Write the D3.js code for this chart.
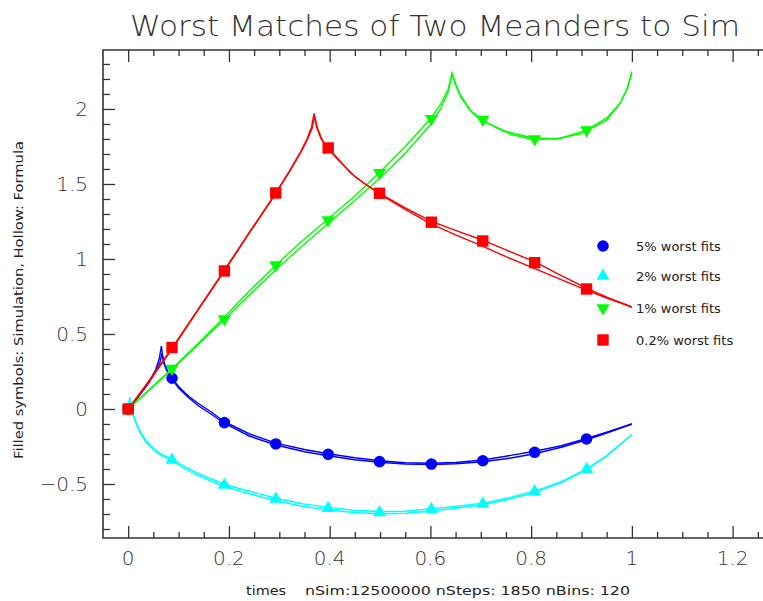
<html>
<head>
<style>
  body { margin: 0; background: #fff; }
  svg text { font-family: "DejaVu Sans", "Liberation Sans", sans-serif; fill: #222; }
</style>
</head>
<body>
<script src="https://d3js.org/d3.v7.min.js"></script>
<svg width="763" height="601"></svg>
<script>
// tick values
var xMajor = [0, 0.2, 0.4, 0.6, 0.8, 1, 1.2];
var yMajor = [-0.5, 0, 0.5, 1, 1.5, 2];

// marker positions (simulation, filled symbols)
var markX = [0, 0.087, 0.191, 0.293, 0.397, 0.499, 0.602, 0.704, 0.807, 0.91];
var blueMarks  = [0, 0.205, -0.091, -0.233, -0.302, -0.351, -0.367, -0.345, -0.289, -0.2];
var cyanMarks  = [0, -0.34, -0.507, -0.6, -0.662, -0.69, -0.669, -0.633, -0.551, -0.402];
var greenMarks = [0, 0.27, 0.6, 0.96, 1.26, 1.575, 1.935, 1.93, 1.8, 1.86];
var redMarks   = [0, 0.41, 0.92, 1.44, 1.74, 1.438, 1.245, 1.12, 0.975, 0.8];

// curves [time, value]
var blueSim = [[0,0],[0.02,0.085],[0.04,0.175],[0.055,0.265],[0.062,0.34],[0.066,0.42],[0.07,0.31],[0.078,0.245],[0.087,0.205],[0.1,0.15],[0.12,0.085],[0.14,0.035],[0.165,-0.02],[0.191,-0.085],[0.24,-0.165],[0.293,-0.228],[0.35,-0.27],[0.397,-0.298],[0.45,-0.325],[0.499,-0.345],[0.55,-0.358],[0.602,-0.362],[0.65,-0.357],[0.704,-0.34],[0.75,-0.315],[0.807,-0.282],[0.86,-0.245],[0.91,-0.197],[0.95,-0.155],[1.0,-0.1]];
var blueFormula = [[0,0],[0.02,0.08],[0.04,0.17],[0.055,0.25],[0.063,0.31],[0.067,0.37],[0.072,0.3],[0.08,0.24],[0.087,0.2],[0.1,0.14],[0.12,0.075],[0.14,0.02],[0.165,-0.035],[0.191,-0.095],[0.24,-0.18],[0.293,-0.24],[0.35,-0.285],[0.397,-0.312],[0.45,-0.338],[0.499,-0.355],[0.55,-0.367],[0.602,-0.37],[0.65,-0.365],[0.704,-0.352],[0.75,-0.332],[0.807,-0.298],[0.86,-0.255],[0.91,-0.205],[0.95,-0.16],[1.0,-0.1]];

var cyanSim = [[0,0],[0.003,0.08],[0.006,0],[0.011,-0.045],[0.016,-0.09],[0.024,-0.15],[0.035,-0.21],[0.05,-0.262],[0.065,-0.3],[0.087,-0.335],[0.11,-0.38],[0.136,-0.425],[0.16,-0.46],[0.191,-0.5],[0.22,-0.53],[0.249,-0.555],[0.293,-0.595],[0.345,-0.632],[0.397,-0.656],[0.447,-0.675],[0.499,-0.683],[0.55,-0.682],[0.602,-0.665],[0.65,-0.65],[0.704,-0.628],[0.75,-0.597],[0.807,-0.548],[0.86,-0.485],[0.91,-0.4],[0.95,-0.31],[1.0,-0.17]];
var cyanFormula = [[0,0],[0.003,0.06],[0.006,-0.01],[0.011,-0.055],[0.016,-0.1],[0.024,-0.16],[0.035,-0.22],[0.05,-0.272],[0.065,-0.31],[0.087,-0.345],[0.11,-0.393],[0.136,-0.44],[0.16,-0.475],[0.191,-0.515],[0.22,-0.545],[0.249,-0.572],[0.293,-0.612],[0.345,-0.648],[0.397,-0.672],[0.447,-0.69],[0.499,-0.698],[0.55,-0.695],[0.602,-0.68],[0.65,-0.662],[0.704,-0.638],[0.75,-0.607],[0.807,-0.556],[0.86,-0.49],[0.91,-0.405],[0.95,-0.315],[1.0,-0.17]];

var greenSim = [[0,0],[0.05,0.155],[0.087,0.27],[0.14,0.44],[0.19,0.61],[0.24,0.785],[0.292,0.955],[0.34,1.105],[0.396,1.265],[0.45,1.42],[0.5,1.58],[0.55,1.75],[0.6,1.935],[0.62,2.03],[0.635,2.13],[0.643,2.24],[0.65,2.17],[0.66,2.09],[0.68,1.99],[0.702,1.93],[0.73,1.875],[0.76,1.83],[0.807,1.795],[0.858,1.805],[0.911,1.86],[0.95,1.94],[0.977,2.04],[0.99,2.13],[1.0,2.25]];
var greenFormula = [[0,0],[0.05,0.15],[0.1,0.305],[0.15,0.465],[0.2,0.625],[0.25,0.79],[0.3,0.95],[0.35,1.1],[0.4,1.245],[0.45,1.39],[0.5,1.54],[0.55,1.705],[0.6,1.895],[0.62,2.0],[0.635,2.11],[0.643,2.23],[0.65,2.16],[0.66,2.08],[0.68,1.985],[0.7,1.925],[0.75,1.85],[0.8,1.81],[0.85,1.8],[0.9,1.835],[0.95,1.925],[0.975,2.03],[0.99,2.13],[1.0,2.24]];

var redSim = [[0,0],[0.02,0.09],[0.045,0.205],[0.088,0.41],[0.14,0.67],[0.19,0.92],[0.24,1.175],[0.293,1.44],[0.32,1.585],[0.34,1.7],[0.355,1.8],[0.364,1.88],[0.369,1.97],[0.374,1.88],[0.383,1.8],[0.397,1.74],[0.42,1.655],[0.441,1.575],[0.47,1.5],[0.499,1.438],[0.55,1.34],[0.602,1.25],[0.65,1.19],[0.704,1.125],[0.75,1.06],[0.808,0.98],[0.85,0.905],[0.91,0.805],[0.95,0.745],[1.0,0.68]];
var redFormula = [[0,0],[0.02,0.085],[0.045,0.2],[0.088,0.405],[0.14,0.665],[0.19,0.915],[0.24,1.17],[0.293,1.435],[0.32,1.58],[0.34,1.695],[0.355,1.79],[0.365,1.87],[0.37,1.95],[0.376,1.87],[0.385,1.795],[0.397,1.735],[0.42,1.65],[0.45,1.55],[0.5,1.43],[0.55,1.33],[0.6,1.235],[0.65,1.16],[0.7,1.09],[0.75,1.015],[0.8,0.945],[0.85,0.875],[0.9,0.805],[0.95,0.74],[1.0,0.68]];

var legendLabels = ["5% worst fits", "2% worst fits", "1% worst fits", "0.2% worst fits"];

var svg = d3.select("svg");

var x = d3.scaleLinear().domain([-0.05, 1.3]).range([103, 783]);
var y = d3.scaleLinear().domain([-0.86, 2.393]).range([538, 50]);

var series = [
  {color: "#0000ff", sim: blueSim, formula: blueFormula, marks: blueMarks, sym: d3.symbolCircle, size: 105, rot: 0},
  {color: "#00ffff", sim: cyanSim, formula: cyanFormula, marks: cyanMarks, sym: d3.symbolTriangle, size: 75, rot: 0},
  {color: "#00ff00", sim: greenSim, formula: greenFormula, marks: greenMarks, sym: d3.symbolTriangle, size: 75, rot: 180},
  {color: "#ff0000", sim: redSim, formula: redFormula, marks: redMarks, sym: d3.symbolSquare, size: 130, rot: 0}
];

// axes: bottom, left, top with inward ticks
var axisColor = "#333";
function styleAxis(g) {
  g.select(".domain").remove();
  g.selectAll("line").attr("stroke", axisColor).attr("stroke-width", 1.3);
}
var xMinor = d3.range(0, 1.3, 0.05).filter(function(v) { return Math.abs(v / 0.2 - Math.round(v / 0.2)) > 1e-6; });
var yMinor = d3.range(-0.8, 2.39, 0.1).filter(function(v) { return Math.abs(v / 0.5 - Math.round(v / 0.5)) > 1e-6; });

svg.append("g").attr("transform", "translate(0,538)")
  .call(d3.axisTop(x).tickValues(xMajor).tickSize(12).tickFormat(""))
  .call(styleAxis);
svg.append("g").attr("transform", "translate(0,538)")
  .call(d3.axisTop(x).tickValues(xMinor).tickSize(6).tickFormat(""))
  .call(styleAxis);
svg.append("g").attr("transform", "translate(0,50)")
  .call(d3.axisBottom(x).tickValues(xMajor).tickSize(12).tickFormat(""))
  .call(styleAxis);
svg.append("g").attr("transform", "translate(0,50)")
  .call(d3.axisBottom(x).tickValues(xMinor).tickSize(6).tickFormat(""))
  .call(styleAxis);
svg.append("g").attr("transform", "translate(103,0)")
  .call(d3.axisRight(y).tickValues(yMajor).tickSize(12).tickFormat(""))
  .call(styleAxis);
svg.append("g").attr("transform", "translate(103,0)")
  .call(d3.axisRight(y).tickValues(yMinor).tickSize(7).tickFormat(""))
  .call(styleAxis);

// frame
svg.append("path")
  .attr("d", "M763,50H103V538H763")
  .attr("fill", "none").attr("stroke", axisColor).attr("stroke-width", 1.6);

// tick labels
svg.selectAll(".xl").data(xMajor).enter().append("text")
  .attr("x", function(d) { return x(d); }).attr("y", 565)
  .attr("text-anchor", "middle")
  .style("font-size", "20px").style("font-weight", "200").style("fill", "#333")
  .text(function(d) { return d; });
svg.selectAll(".yl").data(yMajor).enter().append("text")
  .attr("x", 88).attr("y", function(d) { return y(d) + 7; })
  .attr("text-anchor", "end")
  .style("font-size", "20px").style("font-weight", "200").style("fill", "#333")
  .text(function(d) { return d < 0 ? "\u2212" + Math.abs(d) : d; });

// titles
svg.append("text").attr("x", 130).attr("y", 36)
  .attr("textLength", 610).attr("lengthAdjust", "spacingAndGlyphs")
  .style("font-size", "29px").style("font-weight", "200").style("fill", "#333")
  .text("Worst Matches of Two Meanders to Sim");
svg.append("text").attr("x", 246).attr("y", 595).style("font-size", "12px")
  .attr("textLength", 40).attr("lengthAdjust", "spacingAndGlyphs")
  .text("times");
svg.append("text").attr("x", 305).attr("y", 595).style("font-size", "12px")
  .attr("textLength", 325).attr("lengthAdjust", "spacingAndGlyphs")
  .text("nSim:12500000 nSteps: 1850 nBins: 120");
svg.append("text").attr("transform", "translate(23,300) rotate(-90)")
  .attr("text-anchor", "middle").style("font-size", "12px")
  .attr("textLength", 318).attr("lengthAdjust", "spacingAndGlyphs")
  .text("Filled symbols: Simulation, Hollow: Formula");

// curves
var line = d3.line().x(function(d) { return x(d[0]); }).y(function(d) { return y(d[1]); });
series.forEach(function(s) {
  svg.append("path").datum(s.formula).attr("d", line)
    .attr("fill", "none").attr("stroke", s.color).attr("stroke-width", 1.4);
  svg.append("path").datum(s.sim).attr("d", line)
    .attr("fill", "none").attr("stroke", s.color).attr("stroke-width", 1.4);
});

// markers
series.forEach(function(s) {
  var sym = d3.symbol().type(s.sym).size(s.size);
  svg.selectAll(null).data(s.marks).enter().append("path")
    .attr("d", sym)
    .attr("transform", function(d, i) { return "translate(" + x(markX[i]) + "," + y(d) + ") rotate(" + s.rot + ")"; })
    .attr("fill", s.color);
});

// legend
var legY = [246, 276, 308, 340];
series.forEach(function(s, i) {
  svg.append("path").attr("d", d3.symbol().type(s.sym).size(s.size)())
    .attr("transform", "translate(603," + legY[i] + ") rotate(" + s.rot + ")")
    .attr("fill", s.color);
  svg.append("text").attr("x", 636).attr("y", legY[i] + 5)
    .style("font-size", "13px").text(legendLabels[i]);
});
</script>
</body>
</html>
